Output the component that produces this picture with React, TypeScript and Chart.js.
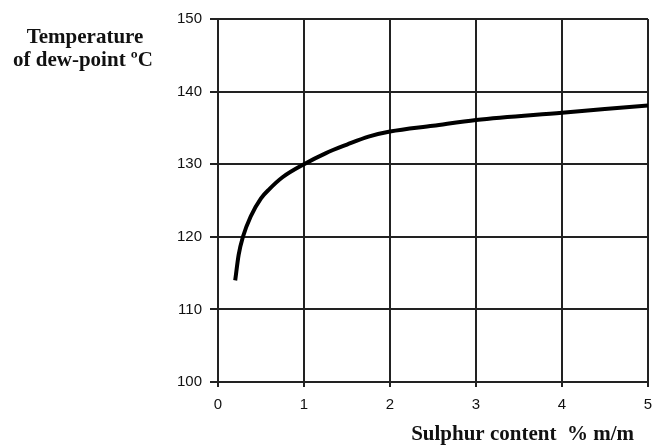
import React, { useEffect, useRef } from "react";
import { Chart, registerables } from "chart.js";

Chart.register(...registerables);

const sulphur = [0.2, 0.24, 0.29, 0.38, 0.5, 0.6, 0.75, 1.0, 1.25, 1.5, 1.75, 2.0, 2.5, 3.0, 4.0, 5.0];
const dewPoint = [114, 117.5, 120, 122.8, 125.3, 126.6, 128.2, 130, 131.5, 132.7, 133.8, 134.5, 135.3, 136.1, 137.1, 138.1];
const xTicks = [0, 1, 2, 3, 4, 5];
const yTicks = [100, 110, 120, 130, 140, 150];
const yTitleLines = ["Temperature", "of dew-point ºC"];
const xTitle = "Sulphur content  % m/m";

const titlesPlugin = {
  id: "titles",
  afterDraw(chart: any) {
    const ctx = chart.ctx;
    ctx.save();
    ctx.fillStyle = "#111";
    ctx.font = "bold 21px 'Liberation Serif', 'Times New Roman', serif";
    ctx.textAlign = "center";
    ctx.textBaseline = "alphabetic";
    ctx.fillText(yTitleLines[0], 85, 43);
    ctx.fillText(yTitleLines[1], 83, 66);
    ctx.textAlign = "right";
    ctx.fillText(xTitle, 634, 440);
    ctx.restore();
  },
};

export default function App() {
  const ref = useRef<HTMLCanvasElement>(null);
  useEffect(() => {
    const chart = new Chart(ref.current!, {
      type: "line",
      data: {
        datasets: [
          {
            data: sulphur.map((x, i) => ({ x, y: dewPoint[i] })),
            borderColor: "#000",
            borderWidth: 4,
            pointRadius: 0,
            cubicInterpolationMode: "monotone",
            fill: false,
          },
        ],
      },
      options: {
        animation: false,
        responsive: false,
        maintainAspectRatio: false,
        layout: { padding: { left: 0, right: 14, top: 19, bottom: 0 } },
        plugins: { legend: { display: false }, tooltip: { enabled: false } },
        scales: {
          x: {
            type: "linear",
            min: 0,
            max: 5,
            afterBuildTicks: (s: any) => {
              s.ticks = xTicks.map((v) => ({ value: v }));
            },
            afterFit: (s: any) => {
              s.height = 64;
            },
            grid: { color: "#222", lineWidth: 2, tickLength: 5, drawTicks: true },
            border: { display: true, color: "#222", width: 2 },
            ticks: {
              color: "#111",
              padding: 9,
              maxRotation: 0,
              font: { family: "'Liberation Sans', Arial, sans-serif", size: 15 },
            },
          },
          y: {
            type: "linear",
            min: 100,
            max: 150,
            afterBuildTicks: (s: any) => {
              s.ticks = yTicks.map((v) => ({ value: v }));
            },
            afterFit: (s: any) => {
              s.width = 218;
            },
            grid: { color: "#222", lineWidth: 2, tickLength: 8, drawTicks: true },
            border: { display: true, color: "#222", width: 2 },
            ticks: {
              color: "#111",
              padding: 8,
              font: { family: "'Liberation Sans', Arial, sans-serif", size: 15 },
            },
          },
        },
      },
      plugins: [titlesPlugin],
    } as any);
    return () => chart.destroy();
  }, []);
  return (
    <div style={{ position: "fixed", left: 0, top: 0, width: 662, height: 446, background: "#fff" }}>
      <canvas ref={ref} width={662} height={446} style={{ width: 662, height: 446 }} />
    </div>
  );
}
